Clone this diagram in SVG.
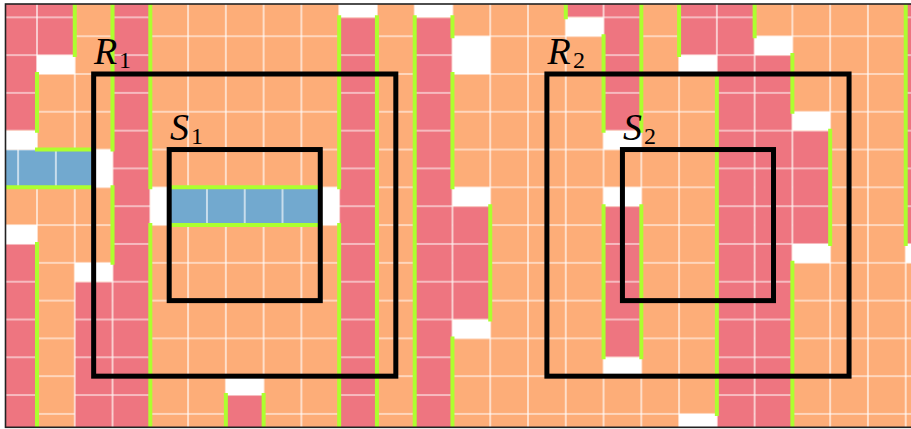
<svg xmlns="http://www.w3.org/2000/svg" width="911" height="429" viewBox="0 0 911 429">
<style>
.r{fill:url(#rO)}
.w{fill:#fff}
.b{fill:url(#bE)}
.lime{fill:none;stroke:#ADFF2F;stroke-width:0.212;stroke-linecap:square}
.box{fill:none;stroke:#000;stroke-width:0.265}
.lbl{font-family:"Liberation Serif","DejaVu Serif",serif;font-style:italic;font-size:38px;fill:#000}
.sub{font-family:"Liberation Serif","DejaVu Serif",serif;font-size:24px;fill:#000}
</style>
<defs>
<pattern id="oE" patternUnits="userSpaceOnUse" x="0" y="0" width="2" height="2">
<rect width="2" height="2" fill="#FDAD78"/>
<path d="M0 0H2V2H0Z" fill="none" stroke="#fff" stroke-width="0.064"/>
</pattern>
<pattern id="rO" patternUnits="userSpaceOnUse" x="0" y="1" width="2" height="2">
<rect width="2" height="2" fill="#EE7580"/>
<path d="M0 0H2V2H0Z" fill="none" stroke="#fff" stroke-width="0.064"/>
</pattern>
<pattern id="bE" patternUnits="userSpaceOnUse" x="1" y="0" width="2" height="2">
<rect width="2" height="2" fill="#72A9CF"/>
<path d="M0 0H2V2H0Z" fill="none" stroke="#fff" stroke-width="0.064"/>
</pattern>
<clipPath id="frame"><rect x="5.5" y="4" width="906" height="423.3"/></clipPath>
</defs>
<rect width="911" height="429" fill="#fff"/>
<g clip-path="url(#frame)">
<g id="tiling" transform="translate(37,-1.54) scale(18.885)">
<rect id="base" x="-3" y="-2" width="52" height="27" fill="url(#oE)"/>
<g id="red-strips">
<rect class="r" x="-2" y="-1" width="2" height="8"/>
<rect class="r" x="-2" y="13" width="2" height="11"/>
<rect class="r" x="0" y="-1" width="2" height="4"/>
<rect class="r" x="2" y="15" width="2" height="9"/>
<rect class="r" x="4" y="-1" width="2" height="25"/>
<rect class="r" x="10" y="21" width="2" height="3"/>
<rect class="r" x="16" y="1" width="2" height="23"/>
<rect class="r" x="20" y="1" width="2" height="23"/>
<rect class="r" x="22" y="11" width="2" height="6"/>
<rect class="r" x="28" y="-1" width="2" height="2"/>
<rect class="r" x="30" y="-1" width="2" height="8"/>
<rect class="r" x="30" y="11" width="2" height="8"/>
<rect class="r" x="34" y="-1" width="2" height="4"/>
<rect class="r" x="36" y="-1" width="2" height="25"/>
<rect class="r" x="38" y="3" width="2" height="21"/>
<rect class="r" x="40" y="7" width="2" height="6"/>
<rect class="r" x="46" y="-1" width="2" height="14"/>
</g>
<g id="blue-strips">
<rect class="b" x="-3" y="8" width="6" height="2"/>
<rect class="b" x="7" y="10" width="8" height="2"/>
</g>
<g id="gaps">
<rect class="w" x="-2" y="7" width="2" height="1"/>
<rect class="w" x="-2" y="12" width="2" height="1"/>
<rect class="w" x="0" y="3" width="2" height="1"/>
<rect class="w" x="3" y="8" width="1" height="2"/>
<rect class="w" x="2" y="14" width="2" height="1"/>
<rect class="w" x="6" y="10" width="1" height="2"/>
<rect class="w" x="10" y="20" width="2" height="1"/>
<rect class="w" x="15" y="10" width="1" height="2"/>
<rect class="w" x="16" y="-1" width="2" height="2"/>
<rect class="w" x="20" y="-1" width="2" height="2"/>
<rect class="w" x="22" y="2" width="2" height="2"/>
<rect class="w" x="22" y="10" width="2" height="1"/>
<rect class="w" x="22" y="17" width="2" height="1"/>
<rect class="w" x="28" y="1" width="2" height="1"/>
<rect class="w" x="30" y="7" width="2" height="1"/>
<rect class="w" x="30" y="10" width="2" height="1"/>
<rect class="w" x="30" y="19" width="2" height="1"/>
<rect class="w" x="34" y="3" width="2" height="1"/>
<rect class="w" x="34" y="22" width="2" height="2"/>
<rect class="w" x="38" y="2" width="2" height="1"/>
<rect class="w" x="40" y="6" width="2" height="1"/>
<rect class="w" x="40" y="13" width="2" height="1"/>
<rect class="w" x="46" y="13" width="2" height="1"/>
</g>
<g id="boundaries">
<path class="lime" d="M0 4V7M0 13V24M2 -1V3M4 -1V8M4 10V14M6 -1V10M6 12V24M10 21V24M12 21V24M16 1V10M16 12V24M18 1V24M20 1V24M22 1V2M22 4V10M22 18V24M24 11V17M28 -1V1M30 2V7M30 11V19M32 -1V7M32 11V19M34 -1V3M36 4V22M38 -1V2M40 3V6M40 14V24M42 7V13M46 -1V13M0 8H3M-3 10H3M7 10H15M7 12H15"/>
</g>
<g id="R1"><rect class="box" x="3" y="4" width="16" height="16"/></g>
<g id="S1"><rect class="box" x="7" y="8" width="8" height="8"/></g>
<g id="R2"><rect class="box" x="27" y="4" width="16" height="16"/></g>
<g id="S2"><rect class="box" x="31" y="8" width="8" height="8"/></g>
</g>
</g>
<rect x="5.5" y="4" width="912" height="423.3" fill="none" stroke="#222" stroke-width="1.6"/>
<g id="labels">
<text class="lbl" x="94" y="63.5">R</text><text class="sub" x="119" y="68">1</text>
<text class="lbl" x="170" y="139.5">S</text><text class="sub" x="191" y="143.5">1</text>
<text class="lbl" x="547.5" y="63.5">R</text><text class="sub" x="573" y="68">2</text>
<text class="lbl" x="623" y="139.5">S</text><text class="sub" x="644" y="143.5">2</text>
</g>
</svg>
